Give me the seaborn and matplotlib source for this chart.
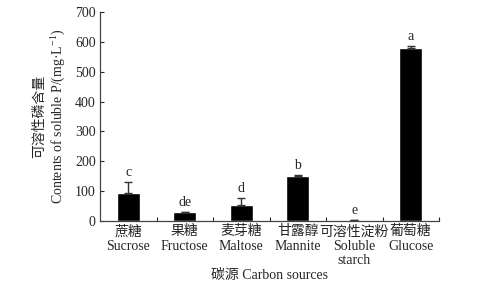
import matplotlib
matplotlib.use("Agg")
import matplotlib.pyplot as plt
import seaborn as sns
import pandas as pd
import numpy as np

cat_cn = ["蔗糖", "果糖", "麦芽糖", "甘露醇", "可溶性淀粉", "葡萄糖"]
cat_en = ["Sucrose", "Fructose", "Maltose", "Mannite", "Soluble\nstarch", "Glucose"]
values = [95, 29, 53, 151, 3, 579]
errors = [35, 2, 24, 2, 1, 7]
letters = ["c", "de", "d", "b", "e", "a"]
yticks = [0, 100, 200, 300, 400, 500, 600, 700]

sns.set_style("ticks")
plt.rcParams['font.family'] = ['Liberation Serif', 'Noto Sans CJK SC']
plt.rcParams['font.size'] = 10
plt.rcParams['mathtext.fontset'] = 'custom'
plt.rcParams['mathtext.rm'] = 'Liberation Serif'

labels = [f"{c}\n{e}" for c, e in zip(cat_cn, cat_en)]
df = pd.DataFrame({"cat": labels, "val": values})

fig = plt.figure(figsize=(4.79, 2.96), dpi=100)
ax = fig.add_axes([100/479, 1-221/296, 339/479, 209/296])

sns.barplot(data=df, x="cat", y="val", order=labels, color="black",
            width=0.4, ax=ax, errorbar=None, saturation=1)
x = np.arange(len(values))
ax.errorbar(x, values, yerr=[np.zeros(len(errors)), errors], fmt="none",
            ecolor="#333333", elinewidth=1, capsize=3, capthick=1)
for i, (v, e, l) in enumerate(zip(values, errors, letters)):
    ax.text(i, v + e + 10, l, ha="center", va="bottom", fontsize=10)

ax.set_xlim(-0.5, 5.5)
ax.set_ylim(0, 700)
ax.set_yticks(yticks)
ax.tick_params(axis="y", direction="in", length=3, width=0.8, pad=3, labelsize=10)
ax.set_xticks(x)
ax.set_xticklabels(labels, linespacing=1.15)
ax.tick_params(axis="x", which="major", length=0, pad=3, labelsize=10)
ax.set_xticks(np.arange(0.5, 6, 1), minor=True)
ax.tick_params(axis="x", which="minor", direction="in", length=3, width=0.8)
for s in ["top", "right"]:
    ax.spines[s].set_visible(False)
for s in ["left", "bottom"]:
    ax.spines[s].set_color("#444444")
    ax.spines[s].set_linewidth(0.9)

ax.set_xlabel("碳源 Carbon sources", fontsize=10, labelpad=1)
ax.set_ylabel("可溶性磷含量\nContents of soluble P/(mg·L$^{-1}$)", fontsize=10,
              linespacing=1.15, labelpad=6)

fig.savefig("out.png", dpi=100)
